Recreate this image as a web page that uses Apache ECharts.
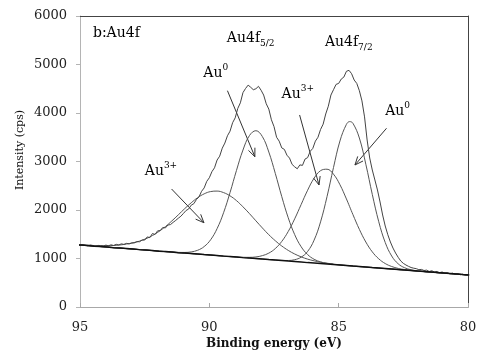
<!DOCTYPE html>
<html>
<head>
<meta charset="utf-8">
<script src="https://cdn.jsdelivr.net/npm/echarts@6/dist/echarts.min.js"></script>
<style>
  html, body { margin: 0; padding: 0; background: #fff; }
  #chart { width: 477px; height: 352px; }
</style>
</head>
<body>
<div id="chart"></div>
<script>
// ---- Fitted components: binding-energy grid (eV) ----
const fitEnergy = [95.2, 94.95, 94.7, 94.45, 94.2, 93.95, 93.7, 93.45, 93.2, 92.95,
  92.7, 92.45, 92.2, 91.95, 91.7, 91.45, 91.2, 90.95, 90.7, 90.45,
  90.2, 89.95, 89.7, 89.45, 89.2, 88.95, 88.7, 88.45, 88.2, 87.95,
  87.7, 87.45, 87.2, 86.95, 86.7, 86.45, 86.2, 85.95, 85.7, 85.45,
  85.2, 84.95, 84.7, 84.575, 84.45, 84.2, 83.95, 83.7, 83.45, 83.2, 82.95,
  82.7, 82.45, 82.2, 81.95, 81.7, 81.45, 81.2, 80.95, 80.7, 80.45,
  80.2, 79.95];

// Background under the Au 4f region (cps)
const background = [1286, 1276, 1266, 1255, 1245, 1235, 1224, 1214, 1204, 1194,
  1183, 1173, 1163, 1152, 1142, 1132, 1121, 1111, 1101, 1091,
  1080, 1070, 1060, 1049, 1039, 1029, 1018, 1008, 998, 988,
  977, 967, 957, 946, 936, 926, 915, 905, 895, 885,
  874, 864, 854, 849, 843, 833, 823, 812, 802, 792, 782,
  771, 761, 751, 740, 730, 720, 709, 699, 689, 679,
  668, 658];

// Component intensities above the background (cps)
const au3Plus52 = [2, 4, 7, 12, 20, 30, 45, 65, 95, 130,
  175, 235, 310, 405, 515, 642, 779, 918, 1048, 1164,
  1253, 1310, 1330, 1310, 1253, 1164, 1048, 918, 779, 642,
  513, 399, 301, 221, 157, 108, 72, 47, 29, 18,
  11, 6, 3, 2, 2, 1, 0, 0, 0, 0, 0,
  0, 0, 0, 0, 0, 0, 0, 0, 0, 0,
  0, 0];
const au0_52 = [0, 0, 0, 0, 0, 0, 0, 0, 0, 0,
  0, 0, 0, 0, 0, 2, 5, 14, 35, 79,
  166, 316, 556, 894, 1320, 1788, 2218, 2526, 2637, 2526,
  2218, 1788, 1320, 894, 556, 316, 166, 79, 35, 14,
  5, 2, 0, 0, 0, 0, 0, 0, 0, 0, 0,
  0, 0, 0, 0, 0, 0, 0, 0, 0, 0,
  0, 0];
const au3Plus72 = [0, 0, 0, 0, 0, 0, 0, 0, 0, 0,
  0, 0, 0, 0, 0, 0, 0, 0, 0, 0,
  0, 0, 0, 0, 1, 3, 7, 16, 34, 71,
  134, 238, 395, 611, 882, 1188, 1493, 1751, 1916, 1956,
  1864, 1657, 1374, 1219, 1064, 768, 517, 325, 191, 104, 53,
  25, 11, 5, 2, 1, 0, 0, 0, 0, 0,
  0, 0];
const au0_72 = [0, 0, 0, 0, 0, 0, 0, 0, 0, 0,
  0, 0, 0, 0, 0, 0, 0, 0, 0, 0,
  0, 0, 0, 0, 0, 0, 0, 0, 0, 0,
  0, 1, 4, 13, 39, 101, 231, 473, 860, 1391,
  2001, 2560, 2912, 2974, 2946, 2651, 2121, 1510, 956, 538, 269,
  120, 48, 17, 5, 1, 0, 0, 0, 0, 0,
  0, 0];

// ---- Measured spectrum: [binding energy (eV), intensity (cps)] ----
const spectrum = [
  [95.0, 1265], [94.9, 1282], [94.8, 1268], [94.7, 1260], [94.6, 1278], [94.5, 1268], [94.4, 1248], [94.3, 1270], [94.2, 1260], [94.1, 1254],
  [94.0, 1276], [93.9, 1262], [93.8, 1282], [93.7, 1268], [93.6, 1292], [93.5, 1280], [93.4, 1302], [93.3, 1290], [93.2, 1312], [93.1, 1300],
  [93.0, 1320], [92.9, 1322], [92.8, 1348], [92.7, 1345], [92.6, 1382], [92.5, 1380], [92.4, 1445], [92.3, 1430], [92.2, 1515], [92.1, 1495],
  [92.0, 1570], [91.9, 1575], [91.8, 1640], [91.7, 1630], [91.6, 1690], [91.5, 1700], [91.4, 1745], [91.3, 1785], [91.2, 1830], [91.1, 1872],
  [91.0, 1930], [90.9, 1990], [90.8, 2020], [90.7, 2100], [90.6, 2130], [90.5, 2215], [90.4, 2270], [90.3, 2385], [90.2, 2455], [90.1, 2590],
  [90.0, 2665], [89.9, 2790], [89.8, 2870], [89.7, 3030], [89.6, 3110], [89.5, 3275], [89.4, 3380], [89.3, 3530], [89.2, 3625], [89.1, 3800],
  [89.0, 3900], [88.9, 4095], [88.8, 4210], [88.7, 4420], [88.6, 4505], [88.5, 4575], [88.4, 4530], [88.3, 4480], [88.2, 4500], [88.1, 4550],
  [88.0, 4470], [87.9, 4370], [87.8, 4190], [87.7, 4080], [87.6, 3860], [87.5, 3720], [87.4, 3500], [87.3, 3420], [87.2, 3280], [87.1, 3250],
  [87.0, 3130], [86.9, 3070], [86.8, 2940], [86.7, 2890], [86.6, 2850], [86.5, 2930], [86.4, 2920], [86.3, 3050], [86.2, 3080], [86.1, 3210],
  [86.0, 3270], [85.9, 3420], [85.8, 3500], [85.7, 3660], [85.6, 3770], [85.5, 3980], [85.4, 4140], [85.3, 4370], [85.2, 4480], [85.1, 4590],
  [85.0, 4610], [84.9, 4700], [84.8, 4740], [84.7, 4860], [84.6, 4880], [84.5, 4810], [84.4, 4680], [84.3, 4610], [84.2, 4460], [84.1, 4250],
  [84.0, 3920], [83.9, 3444], [83.8, 3072], [83.7, 2825], [83.6, 2619], [83.5, 2413], [83.4, 2165], [83.3, 1897], [83.2, 1670], [83.1, 1490],
  [83.0, 1340], [82.9, 1215], [82.8, 1113], [82.7, 1025], [82.6, 949], [82.5, 900], [82.4, 866], [82.3, 838], [82.2, 814], [82.1, 800],
  [82.0, 790], [81.9, 770], [81.8, 775], [81.7, 752], [81.6, 760], [81.5, 732], [81.4, 748], [81.3, 722], [81.2, 734], [81.1, 708],
  [81.0, 722], [80.9, 696], [80.8, 710], [80.7, 684], [80.6, 698], [80.5, 676], [80.4, 688], [80.3, 666], [80.2, 676], [80.1, 660],
  [80.0, 664]
];

// ---- Annotations, placed in data coordinates [eV, cps] ----
const textLabels = [
  { text: '{t|b:Au4f}', at: [94.5, 5650], align: 'left' },
  { text: '{t|Au4f}{sub|5/2}', at: [88.4, 5547], align: 'center' },
  { text: '{t|Au4f}{sub|7/2}', at: [84.61, 5464], align: 'center' },
  { text: '{t|Au}{sup|0}', at: [89.75, 4825], align: 'center' },
  { text: '{t|Au}{sup|3+}', at: [86.58, 4392], align: 'center' },
  { text: '{t|Au}{sup|0}', at: [82.72, 4042], align: 'center' },
  { text: '{t|Au}{sup|3+}', at: [91.87, 2804], align: 'center' }
];
const arrowLines = [
  [[91.46, 2433], [90.21, 1738]],
  [[89.30, 4460], [88.24, 3099]],
  [[86.51, 3959], [85.76, 2516]],
  [[83.15, 3685], [84.37, 2928]]
];

const FONT = '"DejaVu Serif", serif';

function withBackground(net) {
  return fitEnergy.map((e, i) => [e, background[i] + net[i]]);
}
function fitLine(data, color, width) {
  return {
    type: 'line', data: data, showSymbol: false, smooth: 0.4,
    lineStyle: { color: color, width: width }, silent: true
  };
}

const chart = echarts.init(document.getElementById('chart'), null, { renderer: 'canvas' });

chart.setOption({
  animation: false,
  backgroundColor: '#fff',
  grid: { left: 80, right: 9, top: 16, bottom: 45, outerBoundsMode: 'none' },
  xAxis: [{
    type: 'value', min: 80, max: 95, interval: 5, inverse: true, position: 'bottom',
    axisLine: { show: true, onZero: false, lineStyle: { color: '#a8a8a8', width: 1 } },
    axisTick: { show: true, inside: true, length: 4, lineStyle: { color: '#a8a8a8' } },
    axisLabel: { margin: 14, color: '#222', fontFamily: FONT, fontSize: 13 },
    splitLine: { show: false },
    name: 'Binding energy (eV)', nameLocation: 'middle', nameGap: 31, nameMoveOverlap: false,
    nameTextStyle: { fontFamily: FONT, fontWeight: 'bold', fontSize: 12, color: '#111' }
  }, {
    type: 'value', min: 80, max: 95, inverse: true, position: 'top',
    axisLine: { show: true, onZero: false, lineStyle: { color: '#444', width: 1 } },
    axisTick: { show: false }, axisLabel: { show: false }, splitLine: { show: false }
  }],
  yAxis: [{
    type: 'value', min: 0, max: 6000, interval: 1000,
    axisLine: { show: true, onZero: false, lineStyle: { color: '#b4b4b4', width: 1 } },
    axisTick: { show: true, inside: false, length: 4, lineStyle: { color: '#b4b4b4' } },
    axisLabel: { margin: 13, color: '#222', fontFamily: FONT, fontSize: 13,
      formatter: v => String(v) },
    splitLine: { show: false }
  }, {
    type: 'value', min: 0, max: 6000, position: 'right',
    axisLine: { show: true, onZero: false, lineStyle: { color: '#444', width: 1 } },
    axisTick: { show: false }, axisLabel: { show: false }, splitLine: { show: false }
  }],
  series: [
    fitLine(withBackground(au3Plus52), '#555', 1),
    fitLine(withBackground(au0_52), '#555', 1),
    fitLine(withBackground(au3Plus72), '#555', 1),
    fitLine(withBackground(au0_72), '#555', 1),
    {
      type: 'line', data: spectrum, showSymbol: false,
      lineStyle: { color: '#444', width: 1 }, silent: true
    },
    {
      type: 'line', data: fitEnergy.map((e, i) => [e, background[i]]), showSymbol: false,
      lineStyle: { color: '#111', width: 1.5 }, silent: true
    }
  ]
});

// Text labels and arrows drawn on top of the plot
const rich = {
  t: { fontFamily: FONT, fontSize: 14, color: '#111', lineHeight: 20, verticalAlign: 'middle' },
  sup: { fontFamily: FONT, fontSize: 9, color: '#111', lineHeight: 9, verticalAlign: 'top' },
  sub: { fontFamily: FONT, fontSize: 9, color: '#111', lineHeight: 9, verticalAlign: 'bottom' }
};
const toPx = p => chart.convertToPixel({ xAxisIndex: 0, yAxisIndex: 0 }, p);
const elements = [];
textLabels.forEach(l => {
  const p = toPx(l.at);
  elements.push({
    type: 'text', x: p[0], y: p[1], silent: true,
    style: { text: l.text, rich: rich, align: l.align, verticalAlign: 'middle' }
  });
});
arrowLines.forEach(([from, to]) => {
  const a = toPx(from), b = toPx(to);
  const ang = Math.atan2(b[1] - a[1], b[0] - a[0]);
  const L = 9, w = 0.4;
  const h1 = [b[0] - L * Math.cos(ang - w), b[1] - L * Math.sin(ang - w)];
  const h2 = [b[0] - L * Math.cos(ang + w), b[1] - L * Math.sin(ang + w)];
  elements.push({ type: 'line', silent: true, shape: { x1: a[0], y1: a[1], x2: b[0], y2: b[1] },
    style: { stroke: '#333', lineWidth: 1 } });
  elements.push({ type: 'polyline', silent: true, shape: { points: [h1, b, h2] },
    style: { stroke: '#333', lineWidth: 1, fill: null } });
});
elements.push({
  type: 'text', x: 20, y: 150, rotation: Math.PI / 2, silent: true,
  style: { text: 'Intensity (cps)', fontFamily: FONT, fontSize: 11, fill: '#111',
    align: 'center', verticalAlign: 'middle' }
});
chart.setOption({ graphic: { elements: elements } });
</script>
</body>
</html>
